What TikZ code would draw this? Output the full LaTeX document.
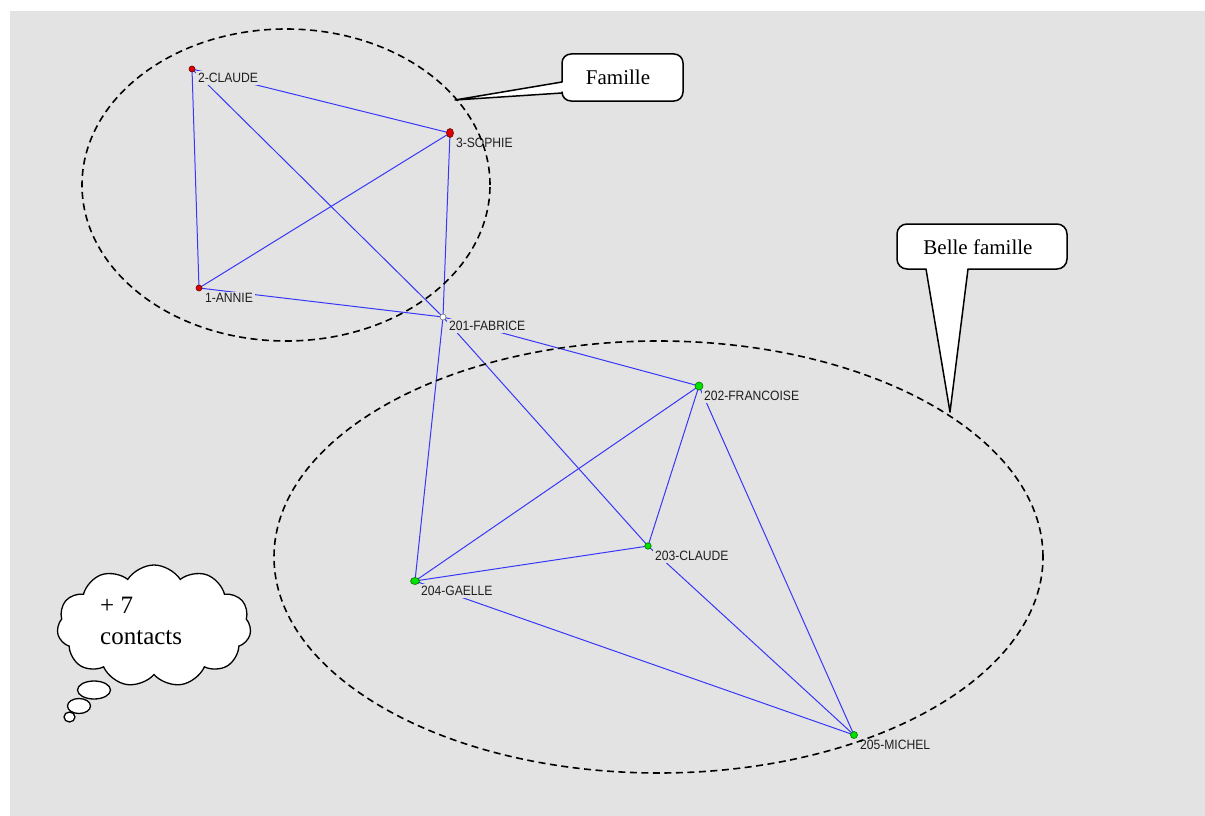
\documentclass[tikz,border=0pt]{standalone}
\usepackage{fontspec}
\usepackage{graphicx}
\setmainfont{Liberation Serif}
\newfontfamily\labfont{Liberation Sans}
\usetikzlibrary{shapes.geometric,shapes.symbols}
\definecolor{bg}{RGB}{227,227,227}
\definecolor{edgeblue}{RGB}{55,55,250}
\definecolor{nodered}{RGB}{225,0,0}
\definecolor{nodegreen}{RGB}{0,225,0}
\newcommand\narrowlab[1]{\scalebox{0.9}[1]{#1}}
\tikzset{
  edge/.style={edgeblue, line width=1pt},
  group/.style={black, line width=1.6pt, dash pattern=on 7pt off 4.5pt},
  lab/.style={anchor=west, fill=bg, inner sep=1.8pt, font=\labfont\fontsize{13.5}{14}\selectfont, text=black!88},
  redpt/.style={circle, draw=black!60!red, fill=nodered, inner sep=0pt, minimum size=6pt, line width=0.6pt},
  greenpt/.style={circle, draw=black!55!green, fill=nodegreen, inner sep=0pt, minimum size=7pt, line width=0.6pt},
  whitept/.style={circle, draw=black!55, fill=white, inner sep=0pt, minimum size=6pt, line width=0.6pt},
  callout/.style={draw=black, fill=white, line width=1.5pt, line join=round},
  callouttext/.style={font=\fontsize{21}{24}\selectfont, inner sep=0pt},
  bubble/.style={ellipse, draw=black, fill=white, line width=1.3pt, inner sep=0pt},
}
\begin{document}
\begin{tikzpicture}[x=1pt, y=-1pt]
\useasboundingbox (0,0) rectangle (1205,816);
\fill[bg] (10,11) rectangle (1205,816);

% positions
\coordinate (p-claude2) at (192,69);
\coordinate (p-sophie) at (450,133);
\coordinate (p-annie) at (199,288);
\coordinate (p-fabrice) at (443,317);
\coordinate (p-francoise) at (699,386);
\coordinate (p-claude203) at (648,546);
\coordinate (p-gaelle) at (415,581);
\coordinate (p-michel) at (854,735);

% edges
\draw[edge] (p-claude2) -- (p-sophie);
\draw[edge] (p-claude2) -- (p-annie);
\draw[edge] (p-claude2) -- (p-fabrice);
\draw[edge] (p-sophie) -- (p-annie);
\draw[edge] (p-sophie) -- (p-fabrice);
\draw[edge] (p-annie) -- (p-fabrice);
\draw[edge] (p-fabrice) -- (p-gaelle);
\draw[edge] (p-fabrice) -- (p-francoise);
\draw[edge] (p-fabrice) -- (p-claude203);
\draw[edge] (p-francoise) -- (p-gaelle);
\draw[edge] (p-francoise) -- (p-claude203);
\draw[edge] (p-francoise) -- (p-michel);
\draw[edge] (p-claude203) -- (p-gaelle);
\draw[edge] (p-claude203) -- (p-michel);
\draw[edge] (p-gaelle) -- (p-michel);

% labels
\node[lab] (lclaude2) at (196,78) {\narrowlab{2-CLAUDE}};
\node[lab] (lsophie) at (454,143) {\narrowlab{3-SOPHIE}};
\node[lab] (lannie) at (203,298) {\narrowlab{1-ANNIE}};
\node[lab] (lfabrice) at (447,326) {\narrowlab{201-FABRICE}};
\node[lab] (lfrancoise) at (702,396) {\narrowlab{202-FRANCOISE}};
\node[lab] (lclaude203) at (653,556) {\narrowlab{203-CLAUDE}};
\node[lab] (lgaelle) at (419,591) {\narrowlab{204-GAELLE}};
\node[lab] (lmichel) at (858,745) {\narrowlab{205-MICHEL}};

% markers
\node[redpt] (claude2) at (p-claude2) {};
\node[redpt, ellipse, minimum width=7pt, minimum height=9pt] (sophie) at (p-sophie) {};
\node[redpt] (annie) at (p-annie) {};
\node[whitept] (fabrice) at (p-fabrice) {};
\node[greenpt, minimum size=8pt] (francoise) at (p-francoise) {};
\node[greenpt, minimum size=6.5pt] (claude203) at (p-claude203) {};
\node[greenpt, ellipse, minimum width=9pt, minimum height=7pt] (gaelle) at (p-gaelle) {};
\node[greenpt, minimum size=7pt] (michel) at (p-michel) {};

% group ellipses
\draw[group] (286,185) ellipse [x radius=204pt, y radius=156pt];
\draw[group] (658.5,557) ellipse [x radius=384.5pt, y radius=216pt];

% callout Famille
\coordinate (famtip) at (455,100);
\draw[callout] [rounded corners=9pt] (562,82) -- (562,54) -- (683,54) -- (683,101) -- (562,101) [sharp corners] -- (562,93) -- (famtip) -- cycle;
\node[callouttext] (famtext) at (618,77) {Famille};

% callout Belle famille
\coordinate (beltip) at (950,412);
\draw[callout] [rounded corners=10pt] (968,269) -- (1067,269) -- (1067,224) -- (897,224) -- (897,269) [sharp corners] -- (926,269) -- (beltip) -- cycle;
\node[callouttext] (beltext) at (978,247) {Belle famille};

% thought cloud
\node[cloud, draw=black, fill=white, line width=1.3pt, cloud puffs=11, cloud puff arc=115, aspect=1.6, minimum width=194pt, minimum height=122pt, inner sep=0pt] (cloudn) at (154,626) {};
\node[bubble, minimum width=33pt, minimum height=18pt] (b1) at (94,690) {};
\node[bubble, minimum width=23pt, minimum height=15pt] (b2) at (79,706) {};
\node[bubble, minimum width=11pt, minimum height=10pt] (b3) at (69.5,717) {};
\node[font=\fontsize{25}{31}\selectfont, align=left, anchor=west, inner sep=0pt] (cloudtext) at (100,621) {+ 7\\contacts};
\end{tikzpicture}
\end{document}
